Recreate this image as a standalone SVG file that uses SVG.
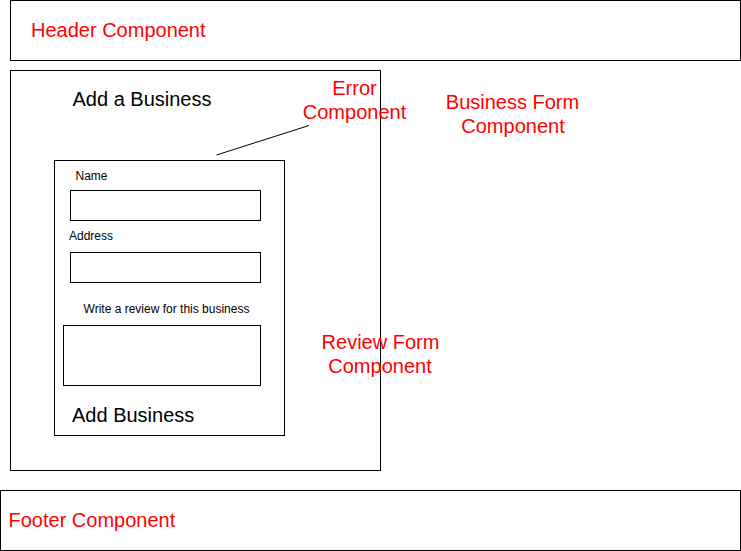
<svg xmlns="http://www.w3.org/2000/svg" width="741" height="551" viewBox="0 0 741 551">
<style>
.box{fill:none;stroke:#000;stroke-width:1}
.red{fill:#ff0000;font-family:"Liberation Sans",Arial,sans-serif;font-size:20px}
.big{fill:#000;font-family:"Liberation Sans",Arial,sans-serif;font-size:20px}
.sm{fill:#000;font-family:"Liberation Sans",Arial,sans-serif;font-size:12px}
</style>
<rect x="0" y="0" width="741" height="551" fill="#fff"/>
<g id="header">
<rect class="box" x="10.5" y="0.5" width="730" height="60"/>
<text class="red" x="31" y="37">Header Component</text>
</g>
<g id="business-form">
<rect class="box" x="10.5" y="70.5" width="370" height="400"/>
<text class="big" x="72.5" y="106">Add a Business</text>
</g>
<g id="review-form">
<rect class="box" x="54.5" y="160.5" width="230" height="275"/>
<text class="sm" x="75.5" y="180">Name</text>
<rect class="box" x="70.5" y="190.5" width="190" height="30"/>
<text class="sm" x="69" y="240">Address</text>
<rect class="box" x="70.5" y="252.5" width="190" height="30"/>
<text class="sm" x="166.5" y="313" text-anchor="middle">Write a review for this business</text>
<rect class="box" x="63.5" y="325.5" width="197" height="60"/>
<text class="big" x="72" y="422">Add Business</text>
</g>
<g id="connectors">
<line x1="216.5" y1="155" x2="309" y2="125.5" stroke="#000" stroke-width="1"/>
</g>
<g id="error-label">
<text class="red" x="354.5" y="95" text-anchor="middle">Error</text>
<text class="red" x="354.5" y="119" text-anchor="middle">Component</text>
</g>
<g id="business-form-label">
<text class="red" x="512.5" y="109" text-anchor="middle">Business Form</text>
<text class="red" x="513" y="133" text-anchor="middle">Component</text>
</g>
<g id="review-form-label">
<text class="red" x="380.5" y="349" text-anchor="middle">Review Form</text>
<text class="red" x="380" y="373" text-anchor="middle">Component</text>
</g>
<g id="footer">
<rect class="box" x="0.5" y="490.5" width="740" height="60"/>
<text class="red" x="8.5" y="527">Footer Component</text>
</g>
</svg>
